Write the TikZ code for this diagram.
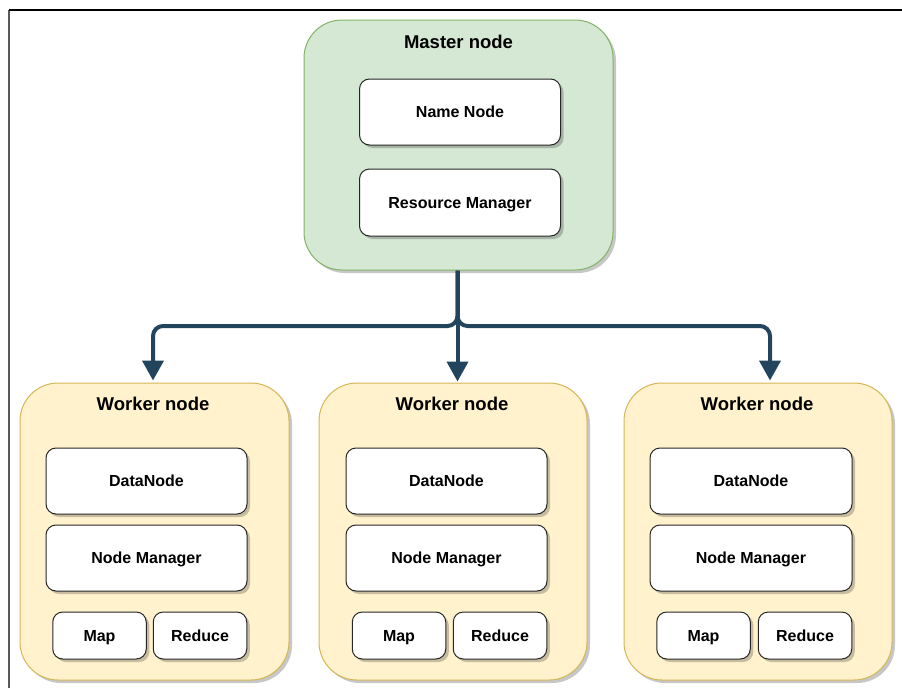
\documentclass[tikz,border=0pt]{standalone}
\usepackage{fontspec}
\setmainfont{Liberation Sans}
\usetikzlibrary{arrows.meta,shadows}
\definecolor{conncol}{HTML}{23445D}
\definecolor{mfill}{HTML}{D5E8D4}
\definecolor{mdraw}{HTML}{82B366}
\definecolor{wfill}{HTML}{FFF2CC}
\definecolor{wdraw}{HTML}{D6B656}
\tikzset{
  shad/.style={drop shadow={shadow xshift=3pt,shadow yshift=-3pt,fill=black,opacity=0.22}},
  masterbox/.style={draw=mdraw,fill=mfill,line width=1pt,rounded corners=38pt,inner sep=0pt,shad},
  workerbox/.style={draw=wdraw,fill=wfill,line width=1pt,rounded corners=38pt,inner sep=0pt,shad,minimum width=268pt,minimum height=297pt},
  innerbox/.style={draw=black!85,fill=white,line width=1pt,rounded corners=10pt,inner sep=0pt,shad,font=\bfseries\fontsize{16}{19}\selectfont,text height=11.5pt,text depth=0pt},
  wide/.style={innerbox,minimum width=201pt,minimum height=66pt},
  small/.style={innerbox,minimum width=93.5pt,minimum height=47pt},
  titletext/.style={font=\bfseries\fontsize{18.5}{22}\selectfont,inner sep=0pt,text height=13.3pt,text depth=0pt},
  conn/.style={draw=conncol,line width=4pt,rounded corners=10pt,-{Triangle[width=21pt,length=20pt]}}
}
\begin{document}
\begin{tikzpicture}[x=1pt,y=-1pt]
\useasboundingbox (0,0) rectangle (902,688);
\fill[white] (0,0) rectangle (902,688);
% frame
\draw[black!65,line width=1.3pt] (9,688) -- (9,10);
\draw[black,line width=1.3pt] (9,10) -- (902,10);

% master
\node[masterbox,minimum width=309pt,minimum height=250pt] (master) at (458.5,145) {};
\node[titletext] (mtitle) at (458.5,42) {Master node};
\node[wide] (nn) at (460,112) {Name Node};
\node[wide,minimum height=67pt] (rm) at (460,202.5) {Resource Manager};

% workers
\node[workerbox,minimum width=269pt] (w1) at (154.5,531.5) {};
\node[workerbox] (w2) at (453,531.5) {};
\node[workerbox] (w3) at (758,531.5) {};
\node[titletext] (w1t) at (153,404) {Worker node};
\node[titletext] (w2t) at (452,404) {Worker node};
\node[titletext] (w3t) at (757,404) {Worker node};

\node[wide] (dn1) at (146.5,481) {DataNode};
\node[wide] (nm1) at (146.5,558) {Node Manager};
\node[small] (map1) at (99.5,635.5) {Map};
\node[small] (red1) at (200,635.5) {Reduce};

\node[wide] (dn2) at (446.5,481) {DataNode};
\node[wide] (nm2) at (446.5,558) {Node Manager};
\node[small] (map2) at (399,635.5) {Map};
\node[small] (red2) at (500,635.5) {Reduce};

\node[wide,minimum width=202pt] (dn3) at (751,481) {DataNode};
\node[wide,minimum width=202pt] (nm3) at (751,558) {Node Manager};
\node[small] (map3) at (703.5,635.5) {Map};
\node[small] (red3) at (805,635.5) {Reduce};

% connectors
\coordinate (hub) at (457.5,326);
\coordinate (t1) at ([xshift=-1.5pt,yshift=2pt]w1.north);
\coordinate (t2) at ([xshift=4.5pt,yshift=1pt]w2.north);
\coordinate (t3) at ([xshift=12pt,yshift=2pt]w3.north);
\draw[conn] (master.south -| hub) -- (hub) -| (t1);
\draw[conn] (master.south -| hub) -- (hub) -| (t3);
\draw[conn,rounded corners=0pt] (master.south -| hub) -- (t2);
\end{tikzpicture}
\end{document}
